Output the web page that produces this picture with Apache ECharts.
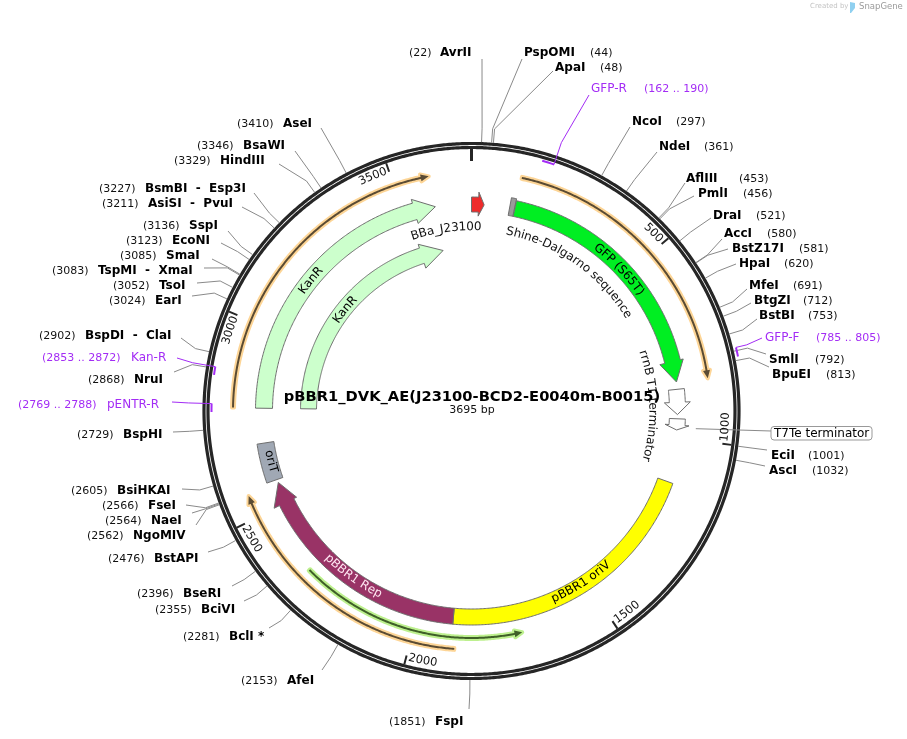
<!DOCTYPE html>
<html>
<head>
<meta charset="utf-8">
<title>pBBR1_DVK_AE</title>
<script src="https://cdn.jsdelivr.net/npm/echarts@6/dist/echarts.min.js"></script>
<style>
html, body { margin: 0; background: #fff; }
#chart { width: 907px; height: 739px; }
</style>
</head>
<body>
<div id="chart"></div>
<script>
var plasmidName = "pBBR1_DVK_AE(J23100-BCD2-E0040m-B0015)"
var plasmidLength = 3695

var tickPositions = [500, 1000, 1500, 2000, 2500, 3000, 3500]

// restriction sites
var siteNames = ["AvrII", "PspOMI", "ApaI", "NcoI", "NdeI", "AflIII", "PmlI", "DraI", "AccI", "BstZ17I", "HpaI", "MfeI", "BtgZI", "BstBI", "SmlI", "BpuEI", "EciI", "AscI", "FspI", "AfeI", "BclI *", "BciVI", "BseRI", "BstAPI", "NgoMIV", "NaeI", "FseI", "BsiHKAI", "BspHI", "NruI", "BspDI  -  ClaI", "EarI", "TsoI", "TspMI  -  XmaI", "SmaI", "EcoNI", "SspI", "AsiSI  -  PvuI", "BsmBI  -  Esp3I", "HindIII", "BsaWI", "AseI"]
var sitePositions = [22, 44, 48, 297, 361, 453, 456, 521, 580, 581, 620, 691, 712, 753, 792, 813, 1001, 1032, 1851, 2153, 2281, 2355, 2396, 2476, 2562, 2564, 2566, 2605, 2729, 2868, 2902, 3024, 3052, 3083, 3085, 3123, 3136, 3211, 3227, 3329, 3346, 3410]

// primers
var primerNames = ["GFP-R", "GFP-F", "pENTR-R", "Kan-R"]
var primerStarts = [162, 785, 2769, 2853]
var primerEnds = [190, 805, 2788, 2872]
var primerForward = [false, true, false, false]

// features
var featureNames = ["BBa_J23100", "Shine-Dalgarno sequence", "GFP (S65T)", "rrnB T1 terminator", "T7Te terminator", "pBBR1 oriV", "pBBR1 Rep", "oriT", "KanR", "KanR"]
var featureStarts = [0, 109, 124, 862, 946, 1127, 1899, 2572, 2779, 2779]
var featureEnds = [36, 123, 841, 934, 978, 1899, 2563, 2681, 3592, 3592]

// translated / PCR arcs
var arcStarts = [125, 1890, 2780]
var arcEnds = [843, 2557, 3589]
var arcReverse = [1715]
var arcReverseEnds = [2315]

// layout: feature bands [inner r, outer r, head base bp, head inner r, head outer r, fill]
var featureLook = [
    [199, 214, 20, 195, 219, "#ee2b2b"],
    [199, 217, null, 0, 0, "#9a9a9a"],
    [199, 215, 782, 194, 218, "#00ee22"],
    [198, 214, 899, 193, 219, "#ffffff"],
    [198, 214, 964, 194, 218, "#ffffff"],
    [198, 214, null, 0, 0, "#ffff00"],
    [198, 214, 2502, 195, 220, "#993366"],
    [200, 217, null, 0, 0, "#a0a8b4"],
    [199, 216, 3532, 195, 220, "#ccffcc"],
    [155, 171, 3513, 150, 175, "#ccffcc"]
]
// layout: feature captions [r, centre bp, colour], null = box label
var captionLook = [
    [184, 3613, "#111"],
    [183, 360, "#111"],
    [206, 474, "#000"],
    [181, 905, "#111"],
    null,
    [205, 1513, "#000"],
    [205, 2213, "#ffe6f2"],
    [207, 2626, "#000"],
    [207, 3172, "#000"],
    [162, 3168, "#000"]
]
// layout: site labels [number x, name x, y, leader end x, leader end y]
var siteLayout = [
    [409, 440, 52, 482, 59], [590, 524, 52, 522, 59], [600, 555, 67, 553, 71],
    [676, 632, 121, 630, 127], [704, 659, 146, 657, 152], [739, 686, 178, 685, 183],
    [743, 698, 193, 694, 196], [756, 713, 215, 711, 218], [767, 724, 233, 722, 239],
    [799, 732, 248, 728, 249], [784, 739, 263, 736, 264], [793, 749, 285, 747, 289],
    [803, 754, 300, 751, 303], [808, 759, 315, 757, 319], [815, 769, 359, 766, 354],
    [826, 772, 374, 769, 367], [808, 771, 455, 767, 450], [812, 769, 470, 765, 466],
    [389, 435, 721, 469, 709], [241, 287, 680, 322, 670], [183, 229, 636, 269, 628],
    [155, 201, 609, 244, 601], [137, 183, 593, 232, 586], [108, 154, 558, 208, 552],
    [87, 133, 535, 196, 525], [105, 151, 520, 192, 513], [102, 148, 505, 186, 505],
    [71, 117, 490, 182, 489], [77, 123, 434, 173, 432], [88, 134, 379, 174, 372],
    [39, 85, 335, 181, 338], [109, 155, 300, 192, 296], [113, 159, 285, 197, 283],
    [52, 98, 270, 204, 268], [120, 166, 255, 212, 259], [126, 172, 240, 221, 243],
    [143, 189, 225, 228, 231], [102, 148, 203, 242, 207], [99, 145, 188, 254, 193],
    [174, 220, 160, 279, 164], [197, 243, 145, 295, 151], [237, 283, 123, 321, 128]
]
// layout: primer labels [number x, name x, y, leader end x, leader end y]
var primerLayout = [
    [644, 591, 88, 589, 95], [816, 765, 337, 762, 338],
    [18, 107, 404, 172, 402], [42, 131, 357, 177, 358]
]
var primerNumbers = ["(162 .. 190)", "(785 .. 805)", "(2769 .. 2788)", "(2853 .. 2872)"]

var FONT = '"DejaVu Sans", Verdana, sans-serif'
var ELBOW_R = 283
var PURPLE = "#a32cf5"
var LEADER = "#8a8a8a"
var RING = "#262626"

var measure = document.createElement("canvas").getContext("2d")
function textW(str, font) {
    measure.font = font
    return measure.measureText(str).width
}

function wrap(bp) {
    return ((bp % plasmidLength) + plasmidLength) % plasmidLength
}

function pt(api, r, bp) {
    return api.coord([r, wrap(bp)])
}

function arc(api, r, from, to) {
    var pts = []
    var n = Math.max(2, Math.ceil(Math.abs(to - from) / 4))
    for (var i = 0; i <= n; i++) {
        pts.push(pt(api, r, from + (to - from) * i / n))
    }
    return pts
}

// closed band, optional arrow head pointing at "end"
function bandShape(api, rIn, rOut, start, end, headBase, headIn, headOut) {
    var pts
    if (headBase === null) {
        pts = arc(api, rOut, start, end).concat(arc(api, rIn, end, start))
    } else {
        pts = arc(api, rOut, start, headBase)
        pts.push(pt(api, headOut, headBase))
        pts.push(pt(api, (rIn + rOut) / 2, end))
        pts.push(pt(api, headIn, headBase))
        pts = pts.concat(arc(api, rIn, headBase, start))
    }
    return pts
}

// one text element per character so that the label follows the circle
function arcText(api, str, r, bp, font, fill) {
    var angle = wrap(bp) * 360 / plasmidLength
    var flip = angle > 90 && angle < 270
    var w = textW(str, font)
    var pxPerBp = r * 2 * Math.PI / plasmidLength
    var cursor = -w / 2
    var out = []
    for (var i = 0; i < str.length; i++) {
        var cw = textW(str[i], font)
        var b = bp + (cursor + cw / 2) / pxPerBp * (flip ? -1 : 1)
        var p = pt(api, r, b)
        var a = b * 360 / plasmidLength
        out.push({
            type: "text",
            x: p[0],
            y: p[1],
            rotation: -(flip ? a - 180 : a) * Math.PI / 180,
            style: { text: str[i], x: 0, y: 0, font: font, fill: fill, align: "center", verticalAlign: "middle" }
        })
        cursor += cw
    }
    return out
}

function label(str, x, y, font, fill) {
    return {
        type: "text",
        style: { text: str, x: x, y: y + 0.8, font: font, fill: fill, align: "left", verticalAlign: "middle" }
    }
}

function poly(points, color, width) {
    return {
        type: "polyline",
        shape: { points: points },
        style: { stroke: color, lineWidth: width, fill: null }
    }
}

function renderRing(params, api) {
    return {
        type: "group",
        children: [
            { type: "polygon", shape: { points: arc(api, 267.5, 0, plasmidLength - 1) }, style: { fill: null, stroke: RING, lineWidth: 3.2 } },
            { type: "polygon", shape: { points: arc(api, 263.5, 0, plasmidLength - 1) }, style: { fill: null, stroke: RING, lineWidth: 3.2 } },
            poly([pt(api, 250, 0), pt(api, 262, 0)], RING, 3)
        ]
    }
}

function renderTick(params, api) {
    var bp = api.value(1)
    var str = String(bp)
    return {
        type: "group",
        children: [poly([pt(api, 253, bp), pt(api, 262, bp)], RING, 2)]
            .concat(arcText(api, str, 254.5, bp - (str.length > 3 ? 39 : 32), "11.5px " + FONT, "#111"))
    }
}

function renderFeature(params, api) {
    var i = api.value(2)
    var look = featureLook[i]
    var children = [{
        type: "polygon",
        shape: { points: bandShape(api, look[0], look[1], featureStarts[i], featureEnds[i], look[2], look[3], look[4]) },
        style: { fill: look[5], stroke: "#6e6e6e", lineWidth: 1 }
    }]
    return { type: "group", children: children }
}

function renderCaption(params, api) {
    var i = api.value(2)
    var cap = captionLook[i]
    if (cap) {
        return { type: "group", children: arcText(api, featureNames[i], cap[0], cap[1], "12px " + FONT, cap[2]) }
    }
    // boxed outside label with a straight leader
    return {
        type: "group",
        children: [
            poly([pt(api, 225, 970), [771, 431]], LEADER, 1),
            { type: "rect", shape: { x: 771, y: 426.5, width: 101, height: 13.5, r: 3 }, style: { fill: "#fff", stroke: "#999", lineWidth: 1 } },
            label(featureNames[i], 774, 433, "12px " + FONT, "#000")
        ]
    }
}

function thinArrow(api, r, from, to, halo, dark) {
    var dir = to > from ? -1 : 1
    var base = to + dir * 20
    var shape = bandShape(api, r - 1, r + 1, from, to, base, r - 3.5, r + 3.5)
    return [
        { type: "polygon", shape: { points: shape }, style: { fill: halo, stroke: halo, lineWidth: 4, lineJoin: "round" } },
        { type: "polygon", shape: { points: shape }, style: { fill: dark, stroke: null } }
    ]
}

function renderArc(params, api) {
    var i = api.value(2)
    if (i < arcStarts.length) {
        return { type: "group", children: thinArrow(api, 238.5, arcStarts[i], arcEnds[i], "#fdd596", "#5a4b33") }
    }
    var k = i - arcStarts.length
    return { type: "group", children: thinArrow(api, 227, arcReverseEnds[k], arcReverse[k], "#bdf08e", "#3f5f28") }
}

function renderSite(params, api) {
    var i = api.value(2)
    var bp = sitePositions[i]
    var lay = siteLayout[i]
    return {
        type: "group",
        children: [
            poly([pt(api, 269, bp), pt(api, ELBOW_R, bp), [lay[3], lay[4]]], LEADER, 1),
            label("(" + bp + ")", lay[0], lay[2], "11px " + FONT, "#111"),
            label(siteNames[i], lay[1], lay[2], "bold 12px " + FONT, "#000")
        ]
    }
}

function renderPrimer(params, api) {
    var i = api.value(2)
    var fwd = primerForward[i]
    var r = fwd ? 272 : 260
    var lay = primerLayout[i]
    var attach = fwd ? primerStarts[i] : primerEnds[i]
    return {
        type: "group",
        children: [
            poly(arc(api, r, primerStarts[i], primerEnds[i]), PURPLE, 2),
            poly([pt(api, r, attach), pt(api, ELBOW_R, attach), [lay[3], lay[4]]], PURPLE, 1),
            label(primerNumbers[i], lay[0], lay[2], "11px " + FONT, PURPLE),
            label(primerNames[i], lay[1], lay[2], "12px " + FONT, PURPLE)
        ]
    }
}

function customSeries(render, rows, z) {
    return {
        type: "custom",
        coordinateSystem: "polar",
        renderItem: render,
        silent: true,
        clip: false,
        z: z,
        encode: { radius: 0, angle: 1 },
        data: rows
    }
}

function rows(list) {
    return list.map(function (bp, i) { return [265, bp, i] })
}

var chart = echarts.init(document.querySelector("#chart"))
var option = {
    animation: false,
    backgroundColor: "#fff",
    title: {
        text: plasmidName,
        subtext: plasmidLength + " bp",
        left: 472,
        top: 390,
        textAlign: "center",
        itemGap: 0,
        padding: 0,
        textStyle: { fontFamily: "DejaVu Sans", fontSize: 14.7, fontWeight: "bold", color: "#000" },
        subtextStyle: { fontFamily: "DejaVu Sans", fontSize: 11, color: "#111", align: "center" }
    },
    polar: { center: [471.5, 411], radius: 269 },
    radiusAxis: { type: "value", min: 0, max: 269, show: false },
    angleAxis: { type: "value", min: 0, max: plasmidLength, startAngle: 90, clockwise: true, show: false },
    series: [
        customSeries(renderRing, [[265, 0, 0]], 2),
        customSeries(renderArc, rows(arcStarts.concat(arcReverse)), 3),
        customSeries(renderFeature, rows(featureStarts), 4),
        customSeries(renderCaption, rows(featureStarts), 5),
        customSeries(renderTick, rows(tickPositions), 5),
        customSeries(renderSite, rows(sitePositions), 5),
        customSeries(renderPrimer, rows(primerStarts), 5)
    ],
    graphic: [
        { type: "text", x: 810, y: 3, style: { text: "Created by", font: "7px " + FONT, fill: "#c4c4c4" } },
        { type: "polygon", shape: { points: [[850, 2], [855, 3], [855, 8], [851, 13], [850, 13]] }, style: { fill: "#8fd0f0" } },
        { type: "text", x: 859, y: 2, style: { text: "SnapGene", font: "8.5px " + FONT, fill: "#9a9a9a" } }
    ]
}
chart.setOption(option)
</script>
</body>
</html>
